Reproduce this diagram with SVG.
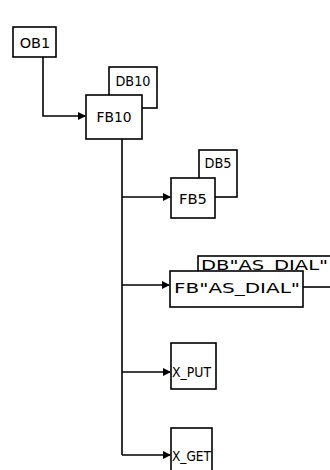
<svg xmlns="http://www.w3.org/2000/svg" width="330" height="470" viewBox="0 0 330 470">
<defs>
<style>
.box{fill:#fff;stroke:#000;stroke-width:1.6}
.t{font-family:"DejaVu Sans","Liberation Sans",Arial,sans-serif;font-size:14.5px;fill:#000}
.c{fill:none;stroke:#000;stroke-width:1.6}
</style>
<marker id="ah" markerWidth="8" markerHeight="8" refX="7" refY="4" orient="auto" markerUnits="userSpaceOnUse">
<path d="M0,0 L8,4 L0,8 Z" fill="#000"/>
</marker>
</defs>
<rect width="330" height="470" fill="#fff"/>
<g id="connectors">
<path class="c" d="M43,57 V116 H85" marker-end="url(#ah)"/>
<path class="c" d="M122,139 V455"/>
<path class="c" d="M122,197 H170" marker-end="url(#ah)"/>
<path class="c" d="M122,285 H169" stroke-width="2.6" marker-end="url(#ah)"/>
<path class="c" d="M122,372 H170" marker-end="url(#ah)"/>
<path class="c" d="M122,455 H170" marker-end="url(#ah)"/>
</g>
<g id="OB1">
<rect class="box" x="13" y="27" width="43" height="30"/>
<text class="t" x="35" y="47.5" text-anchor="middle">OB1</text>
</g>
<g id="DB10">
<rect class="box" x="109" y="67" width="48" height="41"/>
<text class="t" x="133" y="86" text-anchor="middle" textLength="35" lengthAdjust="spacingAndGlyphs">DB10</text>
</g>
<g id="FB10">
<rect class="box" x="86" y="95" width="56" height="44"/>
<text class="t" x="114" y="122" text-anchor="middle" textLength="35" lengthAdjust="spacingAndGlyphs">FB10</text>
</g>
<g id="DB5">
<rect class="box" x="199" y="150" width="38" height="47"/>
<text class="t" x="218" y="168" text-anchor="middle" textLength="27" lengthAdjust="spacingAndGlyphs">DB5</text>
</g>
<g id="FB5">
<rect class="box" x="171" y="178" width="44" height="40"/>
<text class="t" x="193" y="204" text-anchor="middle" textLength="28" lengthAdjust="spacingAndGlyphs">FB5</text>
</g>
<g id="DB_AS_DIAL">
<rect class="box" x="198" y="256" width="140" height="31"/>
<text class="t" x="201" y="269.5" textLength="127" lengthAdjust="spacingAndGlyphs">DB"AS_DIAL"</text>
</g>
<g id="FB_AS_DIAL">
<rect class="box" x="170" y="271" width="133" height="36"/>
<text class="t" x="174" y="293" textLength="126" lengthAdjust="spacingAndGlyphs">FB"AS_DIAL"</text>
</g>
<g id="X_PUT">
<rect class="box" x="171" y="343" width="45" height="46"/>
<text class="t" x="172" y="377" textLength="39" lengthAdjust="spacingAndGlyphs">X_PUT</text>
</g>
<g id="X_GET">
<rect class="box" x="171" y="428" width="41" height="50"/>
<text class="t" x="172" y="461" textLength="39" lengthAdjust="spacingAndGlyphs">X_GET</text>
</g>
</svg>
